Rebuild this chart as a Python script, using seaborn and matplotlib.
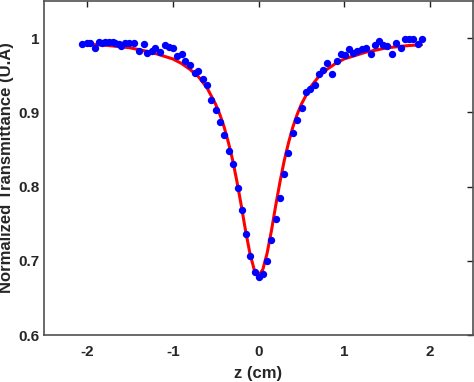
import numpy as np
import matplotlib
matplotlib.use("Agg")
import matplotlib.pyplot as plt
import seaborn as sns
import pandas as pd

# measured z-scan points (z in cm, normalized transmittance)
z_meas = [-2.057, -1.999, -1.960, -1.902, -1.863, -1.824, -1.785, -1.747, -1.700, -1.669,
          -1.630, -1.599, -1.560, -1.513, -1.455, -1.397, -1.338, -1.299, -1.240, -1.202,
          -1.144, -1.093, -1.047, -0.998, -0.945, -0.893, -0.852, -0.793, -0.741, -0.700,
          -0.648, -0.599, -0.548, -0.496, -0.443, -0.397, -0.347, -0.295, -0.242, -0.198,
          -0.144, -0.097, -0.039, 0.004, 0.050, 0.102, 0.148, 0.207, 0.249, 0.303,
          0.347, 0.405, 0.452, 0.502, 0.557, 0.599, 0.653, 0.704, 0.755, 0.802,
          0.860, 0.914, 0.957, 1.004, 1.054, 1.105, 1.152, 1.202, 1.249, 1.307,
          1.354, 1.404, 1.455, 1.502, 1.552, 1.607, 1.657, 1.704, 1.754, 1.800,
          1.859, 1.910]
t_meas = [0.9915, 0.9929, 0.9937, 0.9870, 0.9950, 0.9937, 0.9946, 0.9946, 0.9950, 0.9929,
          0.9915, 0.9893, 0.9929, 0.9929, 0.9937, 0.9826, 0.9915, 0.9795, 0.9826, 0.9870,
          0.9812, 0.9902, 0.9879, 0.9870, 0.9758, 0.9781, 0.9685, 0.9638, 0.9534, 0.9557,
          0.9446, 0.9369, 0.9164, 0.9031, 0.8866, 0.8698, 0.8474, 0.8305, 0.7983, 0.7678,
          0.7356, 0.7060, 0.6850, 0.6783, 0.6819, 0.6993, 0.7275, 0.7561, 0.7848, 0.8170,
          0.8447, 0.8715, 0.8899, 0.9064, 0.9279, 0.9311, 0.9369, 0.9521, 0.9566, 0.9668,
          0.9513, 0.9695, 0.9781, 0.9768, 0.9848, 0.9803, 0.9826, 0.9856, 0.9870, 0.9789,
          0.9902, 0.9960, 0.9902, 0.9893, 0.9781, 0.9929, 0.9862, 0.9991, 0.9991, 0.9991,
          0.9915, 0.9991]

# fitted curve
z_fit = [-2.0, -1.75, -1.5, -1.25, -1.0, -0.9, -0.8, -0.7, -0.6, -0.5, -0.45, -0.4,
         -0.35, -0.3, -0.25, -0.2, -0.15, -0.1, -0.05, 0.0, 0.05, 0.1, 0.15, 0.2,
         0.25, 0.3, 0.35, 0.4, 0.45, 0.5, 0.6, 0.7, 0.8, 0.9, 1.0, 1.25, 1.5, 1.75, 1.9]
t_fit = [0.992, 0.990, 0.987, 0.981, 0.972, 0.966, 0.958, 0.948, 0.933, 0.911, 0.897, 0.880,
         0.859, 0.835, 0.806, 0.774, 0.740, 0.710, 0.688, 0.680, 0.688, 0.710, 0.740, 0.774,
         0.806, 0.835, 0.859, 0.880, 0.897, 0.911, 0.933, 0.948, 0.958, 0.966, 0.972, 0.981,
         0.987, 0.990, 0.991]

xticks = [-2, -1, 0, 1, 2]
yticks = [0.6, 0.7, 0.8, 0.9, 1.0]
ytick_labels = ["0.6", "0.7", "0.8", "0.9", "1"]

df_meas = pd.DataFrame({"z": z_meas, "T": t_meas})
df_fit = pd.DataFrame({"z": z_fit, "T": t_fit})

sns.set_style("white")
plt.rcParams["font.family"] = ["Liberation Sans", "DejaVu Sans"]
plt.rcParams["font.weight"] = "bold"

fig = plt.figure(figsize=(4.74, 3.82), dpi=100)
ax = fig.add_axes([44 / 474, 47 / 382, 429 / 474, 334 / 382])

sns.lineplot(data=df_fit, x="z", y="T", ax=ax, color="#ff0000", linewidth=2.2,
             sort=False, zorder=2)
sns.scatterplot(data=df_meas, x="z", y="T", ax=ax, color="#0000ff", s=28,
                linewidth=0, zorder=3)

ax.set_xlim(-2.5, 2.5)
ax.set_ylim(0.6, 1.05)
ax.set_xticks(xticks)
ax.set_xticklabels([str(t) for t in xticks])
ax.set_yticks(yticks)
ax.set_yticklabels(ytick_labels)

for side in ["left", "right", "top", "bottom"]:
    ax.spines[side].set_color("#505050")
    ax.spines[side].set_linewidth(1.2)

ax.tick_params(axis="both", direction="in", length=4, width=1.0, color="#202020",
               labelsize=11, top=True, right=True)
ax.tick_params(axis="x", pad=7)
ax.tick_params(axis="y", pad=3)

ax.set_xlabel("z (cm)", fontsize=12, fontweight="bold", labelpad=5)
ax.set_ylabel("Normalized Transmittance (U.A)", fontsize=12, fontweight="bold", labelpad=3)

fig.savefig("out.png", dpi=100)
plt.close(fig)
